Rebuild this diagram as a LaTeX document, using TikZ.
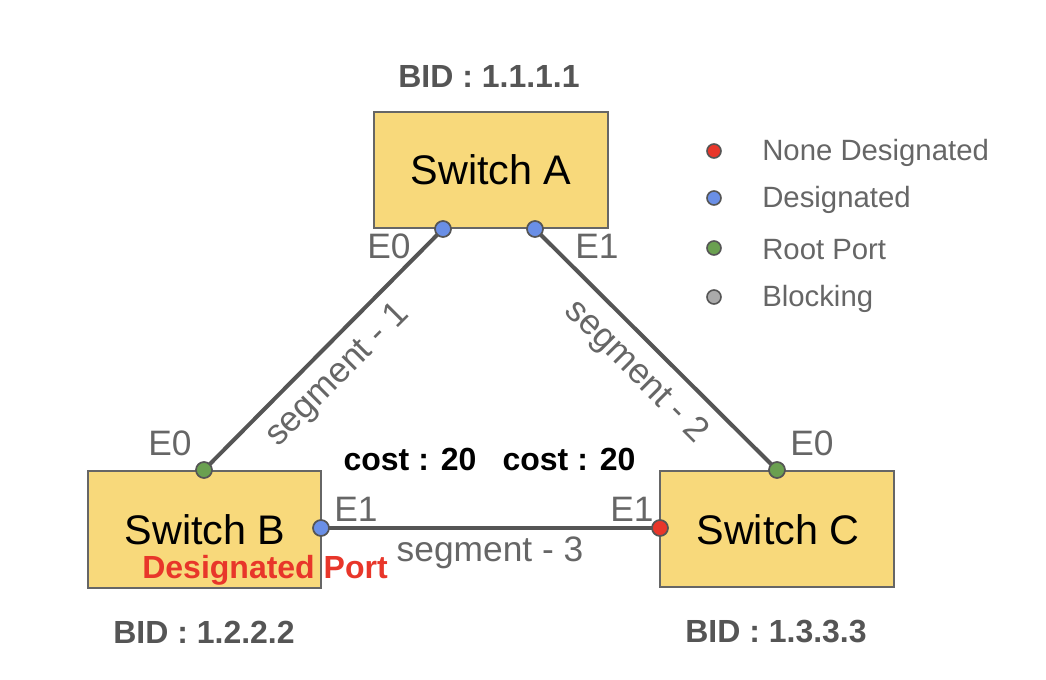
\documentclass[tikz,border=0pt]{standalone}
\usepackage{fontspec}
\setmainfont{Liberation Sans}
\begin{document}
\begin{tikzpicture}[x=0.75pt,y=-0.75pt,
  switchbox/.style={draw=boxline,fill=boxfill,line width=1.5pt,inner sep=0pt,font=\fontsize{31}{36}\selectfont,text=black},
  port/.style={circle,draw=dotline,line width=1.3pt,minimum size=12pt,inner sep=0pt},
  legdot/.style={circle,draw=dotline,line width=1.2pt,minimum size=10.5pt,inner sep=0pt},
  link/.style={draw=linkc,line width=3pt},
  plabel/.style={text=labc,font=\fontsize{26.5}{30}\selectfont,inner sep=0pt},
  bid/.style={text=bidc,font=\fontsize{24}{28}\selectfont\bfseries,inner sep=0pt},
  cost/.style={text=black,font=\fontsize{24}{28}\selectfont\bfseries,inner sep=0pt},
  legtext/.style={text=labc,font=\fontsize{22}{26}\selectfont,anchor=west,inner sep=0pt}
]
\definecolor{boxfill}{HTML}{F8D97B}
\definecolor{boxline}{HTML}{666666}
\definecolor{dotline}{HTML}{555555}
\definecolor{linkc}{HTML}{555555}
\definecolor{labc}{HTML}{666666}
\definecolor{bidc}{HTML}{555555}
\definecolor{pred}{HTML}{E8362A}
\definecolor{pblue}{HTML}{6A8FE6}
\definecolor{pgreen}{HTML}{6AA050}
\definecolor{pgray}{HTML}{AAAAAA}
\useasboundingbox (0,0) rectangle (1046,680);

% switches
\node[switchbox,minimum width=234*0.75pt,minimum height=116*0.75pt] (A) at (491,170) {Switch A};
\node[switchbox,minimum width=233*0.75pt,minimum height=117*0.75pt] (B) at (204.5,529.5) {};
\node[switchbox,minimum width=234*0.75pt,minimum height=116*0.75pt] (C) at (777,529) {};
\node[font=\fontsize{31}{36}\selectfont,inner sep=0pt] (Bt) at (205,530) {Switch B};
\node[font=\fontsize{31}{36}\selectfont,inner sep=0pt] (Ct) at (778,530) {Switch C};

% ports coordinates
\coordinate (AE0) at (443,229);
\coordinate (AE1) at (535,229);
\coordinate (BE0) at (204,470);
\coordinate (BE1) at (321,528);
\coordinate (CE0) at (777,470);
\coordinate (CE1) at (660,528);

% links
\draw[link] (AE0) -- (BE0);
\draw[link] (AE1) -- (CE0);
\draw[link] (BE1) -- (CE1);

% port dots
\node[port,fill=pblue] (pAE0) at (AE0) {};
\node[port,fill=pblue] (pAE1) at (AE1) {};
\node[port,fill=pgreen] (pBE0) at (BE0) {};
\node[port,fill=pblue] (pBE1) at (BE1) {};
\node[port,fill=pgreen] (pCE0) at (CE0) {};
\node[port,fill=pred] (pCE1) at (CE1) {};

% port labels
\node[plabel] (lAE0) at (389,246) {E0};
\node[plabel] (lAE1) at (597,246) {E1};
\node[plabel] (lBE0) at (170,443) {E0};
\node[plabel] (lBE1) at (356,509) {E1};
\node[plabel] (lCE0) at (812,443) {E0};
\node[plabel] (lCE1) at (632,509) {E1};

% segment labels
\node[plabel,rotate=45] (s1) at (338,376) {segment - 1};
\node[plabel,rotate=-45] (s2) at (636,372) {segment - 2};
\node[plabel] (s3) at (490,553) {segment - 3};

% costs
\node[cost] (c1) at (410,459) {cost : 20};
\node[cost] (c2) at (569,459) {cost : 20};

% BIDs
\node[bid] (bidA) at (489,76) {BID : 1.1.1.1};
\node[bid] (bidB) at (204,632) {BID : 1.2.2.2};
\node[bid] (bidC) at (776,632) {BID : 1.3.3.3};

% designated port
\node[text=pred,font=\fontsize{24}{28}\selectfont\bfseries,inner sep=0pt] (dp) at (265,570) {Designated Port};

% legend
\node[legdot,fill=pred] (d1) at (714,151) {};
\node[legdot,fill=pblue] (d2) at (714,198) {};
\node[legdot,fill=pgreen] (d3) at (714,248) {};
\node[legdot,fill=pgray] (d4) at (714,297) {};
\node[legtext] (t1) at (762,153) {None Designated};
\node[legtext] (t2) at (762,200) {Designated};
\node[legtext] (t3) at (762,250) {Root Port};
\node[legtext] (t4) at (762,299) {Blocking};
\end{tikzpicture}
\end{document}
